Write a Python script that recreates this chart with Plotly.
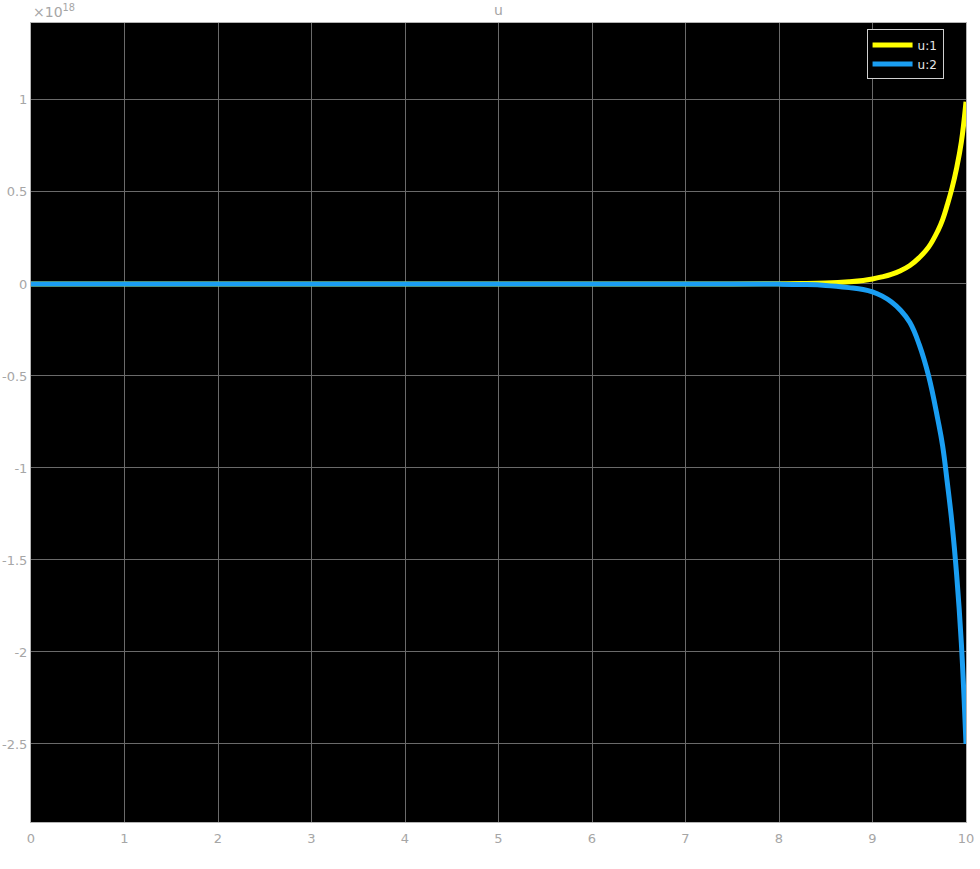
import plotly.graph_objects as go

# time axis and the two scope signals (values in units of 1e18)
t = [0, 1, 2, 3, 4, 5, 6, 7, 7.5, 8, 8.25, 8.5, 8.75, 8.9, 9.0, 9.1, 9.2,
     9.3, 9.4, 9.5, 9.6, 9.7, 9.75, 9.8, 9.85, 9.9, 9.95, 10.0]
u1 = [0, 0, 0, 0, 0, 0, 0, 0, 0.0003, 0.001, 0.002, 0.005, 0.012, 0.019,
      0.027, 0.038, 0.052, 0.072, 0.10, 0.143, 0.20, 0.29, 0.35, 0.43, 0.52,
      0.63, 0.77, 0.99]
u2 = [0, 0, 0, 0, 0, 0, 0, 0, -0.0003, -0.001, -0.003, -0.008, -0.02, -0.03,
      -0.043, -0.065, -0.097, -0.143, -0.21, -0.33, -0.50, -0.74, -0.88,
      -1.08, -1.30, -1.58, -1.95, -2.50]

x_ticks = [0, 1, 2, 3, 4, 5, 6, 7, 8, 9, 10]
y_ticks = [1, 0.5, 0, -0.5, -1, -1.5, -2, -2.5]
y_labels = ['1', '0.5', '0', '-0.5', '-1', '-1.5', '-2', '-2.5']

gray = '#a6a6a6'

fig = go.Figure()
fig.add_trace(go.Scatter(x=t, y=u1, mode='lines', name='u:1',
                         line=dict(color='#ffff00', width=5, shape='spline',
                                   smoothing=1.2)))
fig.add_trace(go.Scatter(x=t, y=u2, mode='lines', name='u:2',
                         line=dict(color='#1a9ef2', width=5, shape='spline',
                                   smoothing=1.2)))

axis_style = dict(showgrid=True, gridcolor='#6a6a6a', gridwidth=1,
                  zeroline=False, showline=True, linecolor='#b4b4b4',
                  linewidth=1, mirror=True, ticks='', automargin=False,
                  tickfont=dict(color=gray, size=13))

fig.update_layout(
    width=980, height=869,
    margin=dict(l=31, r=14, t=23, b=47),
    paper_bgcolor='white',
    plot_bgcolor='black',
    font=dict(family='DejaVu Sans', color=gray),
    xaxis=dict(range=[0, 10], tickvals=x_ticks, ticklabelstandoff=4,
               **axis_style),
    yaxis=dict(range=[-2.924, 1.418], tickvals=y_ticks, ticktext=y_labels,
               **axis_style),
    legend=dict(x=0.976, y=0.992, xanchor='right', yanchor='top',
                bgcolor='black', bordercolor='#d0d0d0', borderwidth=1,
                font=dict(color='#e6e6e6', size=12),
                tracegroupgap=0, itemwidth=40),
    showlegend=True,
    annotations=[
        dict(text='u', xref='paper', yref='paper', x=0.5, y=1,
             xanchor='center', yanchor='bottom', yshift=3, showarrow=False,
             font=dict(color=gray, size=14)),
        dict(text='\u00d710<sup>18</sup>', xref='paper', yref='paper',
             x=0, y=1, xanchor='left', yanchor='bottom', yshift=1,
             showarrow=False, font=dict(color=gray, size=14)),
    ],
)

# drop the default page margin so the figure fills the window exactly
fig.write_html('out.html', config={'displayModeBar': False},
               post_script="document.body.style.margin='0';"
                           "document.body.style.overflow='hidden';")
